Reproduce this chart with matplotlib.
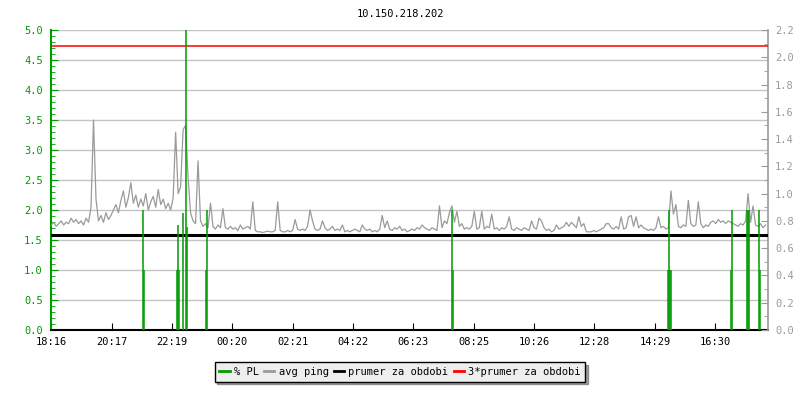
import numpy as np
import matplotlib
matplotlib.use("Agg")
from matplotlib import pyplot as plt
from matplotlib.lines import Line2D
from matplotlib.ticker import MultipleLocator

# avg ping in ms, one value every 5 minutes (24 h, 12 values per hour)
ping_ms = [
    0.77, 0.79, 0.76, 0.78, 0.80, 0.77, 0.79, 0.78, 0.82, 0.79, 0.81, 0.78,
    0.80, 0.77, 0.82, 0.79, 0.90, 1.54, 0.96, 0.80, 0.84, 0.79, 0.86, 0.81,
    0.84, 0.88, 0.92, 0.86, 0.95, 1.02, 0.90, 0.97, 1.08, 0.93, 0.99, 0.90,
    0.96, 0.91, 1.00, 0.88, 0.94, 0.98, 0.90, 1.03, 0.92, 0.96, 0.89, 0.93,
    0.88, 0.97, 1.45, 1.00, 1.05, 1.47, 1.50, 1.12, 0.86, 0.80, 0.78, 1.24,
    0.80, 0.76, 0.78, 0.75, 0.93, 0.76, 0.74, 0.77, 0.75, 0.89, 0.75, 0.74,
    0.76, 0.74, 0.75, 0.73, 0.77, 0.74, 0.75, 0.76, 0.74, 0.94, 0.73, 0.72,
    0.72, 0.715, 0.72, 0.725, 0.72, 0.72, 0.73, 0.94, 0.73, 0.72, 0.72, 0.73,
    0.72, 0.73, 0.81, 0.74, 0.73, 0.74, 0.73, 0.76, 0.88, 0.80, 0.74, 0.73,
    0.74, 0.80, 0.75, 0.73, 0.74, 0.76, 0.73, 0.74, 0.73, 0.77, 0.72, 0.73,
    0.72, 0.73, 0.74, 0.73, 0.72, 0.77, 0.74, 0.73, 0.74, 0.72, 0.73, 0.72,
    0.74, 0.84, 0.75, 0.80, 0.74, 0.73, 0.75, 0.74, 0.76, 0.73, 0.74, 0.72,
    0.73, 0.74, 0.73, 0.75, 0.74, 0.77, 0.75, 0.74, 0.73, 0.75, 0.74, 0.73,
    0.91, 0.75, 0.80, 0.78, 0.86, 0.91, 0.79, 0.87, 0.76, 0.78, 0.74, 0.75,
    0.74, 0.76, 0.87, 0.74, 0.75, 0.87, 0.74, 0.76, 0.75, 0.85, 0.74, 0.75,
    0.73, 0.75, 0.74, 0.76, 0.83, 0.74, 0.73, 0.75, 0.74, 0.73, 0.75, 0.74,
    0.73, 0.80, 0.75, 0.74, 0.82, 0.80, 0.75, 0.73, 0.74, 0.72, 0.73, 0.77,
    0.74, 0.75, 0.76, 0.79, 0.76, 0.79, 0.77, 0.75, 0.83, 0.76, 0.78, 0.72,
    0.72, 0.72, 0.73, 0.72, 0.73, 0.74, 0.75, 0.78, 0.78, 0.75, 0.74, 0.76,
    0.74, 0.83, 0.74, 0.75, 0.83, 0.84, 0.76, 0.83, 0.75, 0.77, 0.75, 0.74,
    0.73, 0.74, 0.73, 0.75, 0.83, 0.75, 0.76, 0.74, 0.75, 1.02, 0.85, 0.92,
    0.76, 0.75, 0.77, 0.76, 0.95, 0.78, 0.76, 0.77, 0.94, 0.78, 0.75, 0.77,
    0.76, 0.79, 0.80, 0.78, 0.81, 0.79, 0.80, 0.78, 0.80, 0.79, 0.78, 0.77,
    0.76, 0.78, 0.77, 0.80, 1.00, 0.79, 0.91, 0.77, 0.76, 0.78, 0.75, 0.77,
]
ping_step_min = 5

# packet loss events: minute from start, % PL
pl_minute = [184, 186, 252, 254, 256, 264, 271, 273, 310, 312, 805, 807,
             1240, 1242, 1244, 1246, 1366, 1368, 1398, 1400, 1402, 1421, 1423]
pl_value = [2.0, 1.0, 1.0, 1.75, 1.0, 1.95, 5.0, 1.72, 1.0, 2.0, 2.0, 1.0,
            1.0, 2.0, 1.0, 1.0, 1.0, 2.0, 2.0, 2.0, 2.0, 2.0, 1.0]

avg_ms = 0.695  # prumer za obdobi
tick_labels = ["18:16", "20:17", "22:19", "00:20", "02:21", "04:22",
               "06:23", "08:25", "10:26", "12:28", "14:29", "16:30"]
tick_step_min = 121.27
title = "10.150.218.202"

green = "#009a00"
gray = "#9a9a9a"
mono = "DejaVu Sans Mono"
plt.rcParams["font.family"] = mono
plt.rcParams["font.size"] = 7.5

fig = plt.figure(figsize=(8, 4), dpi=100)
ax = fig.add_axes([0.064, 0.175, 0.896, 0.75])
ax2 = ax.twinx()

t = np.arange(len(ping_ms)) * ping_step_min

# left axis: % PL
ax.set_ylim(0, 5)
ax.set_xlim(0, 1440)
ax.yaxis.set_major_locator(MultipleLocator(0.5))
ax.yaxis.set_minor_locator(MultipleLocator(0.1))
ax.yaxis.set_major_formatter(matplotlib.ticker.FormatStrFormatter("%.1f"))
ax.grid(axis="y", color="#c4c4c4", linewidth=1.0)
ax.set_axisbelow(True)
ax.set_xticks([i * tick_step_min for i in range(len(tick_labels))])
ax.set_xticklabels(tick_labels)
ax.tick_params(axis="y", which="both", direction="in", colors=green, labelcolor=green, pad=6)
ax.tick_params(axis="y", which="major", length=5)
ax.tick_params(axis="y", which="minor", length=3)
ax.tick_params(axis="x", direction="in", length=5, color="black", pad=5)
ax.spines["left"].set_color(green)
ax.spines["left"].set_linewidth(1.5)
ax.spines["top"].set_visible(False)
ax.spines["right"].set_visible(False)
ax.spines["bottom"].set_linewidth(1.5)

# right axis: ping ms
ax2.set_ylim(0, 2.2)
ax2.yaxis.set_major_locator(MultipleLocator(0.2))
ax2.yaxis.set_minor_locator(MultipleLocator(0.1))
ax2.yaxis.set_major_formatter(matplotlib.ticker.FormatStrFormatter("%.1f"))
ax2.tick_params(axis="y", which="both", direction="in", colors=gray, labelcolor=gray, pad=5)
ax2.tick_params(axis="y", which="major", length=5)
ax2.tick_params(axis="y", which="minor", length=3)
ax2.spines["right"].set_color(gray)
ax2.spines["right"].set_linewidth(1.2)
for s in ["top", "left", "bottom"]:
    ax2.spines[s].set_visible(False)

ax2.plot(t, ping_ms, color=gray, linewidth=0.9, zorder=2)
ax2.axhline(avg_ms, color="black", linewidth=2.2, zorder=3)
ax2.axhline(3 * avg_ms, color="red", linewidth=1.1, zorder=3)

# PL drawn last so the green sits above the grey line
ax3 = ax.twinx()
ax3.set_ylim(0, 5)
ax3.axis("off")
ax3.vlines(pl_minute, 0, pl_value, color=green, linewidth=1.1, zorder=4)

fig.text(0.5, 0.965, title, ha="center", va="center", fontsize=7.5, family=mono)

handles = [Line2D([], [], color=green, linewidth=2),
           Line2D([], [], color=gray, linewidth=2),
           Line2D([], [], color="black", linewidth=2),
           Line2D([], [], color="red", linewidth=2)]
labels = ["% PL", "avg ping", "prumer za obdobi", "3*prumer za obdobi"]
leg = fig.legend(handles, labels, loc="center", bbox_to_anchor=(0.5, 0.07), ncol=4,
                 frameon=True, fancybox=False, shadow=True, facecolor="#eeeeee",
                 edgecolor="black", handlelength=1.0, handletextpad=0.4,
                 columnspacing=0.5, borderpad=0.45, fontsize=7.5)
leg.get_frame().set_linewidth(1.0)

fig.savefig("out.png", dpi=100)
